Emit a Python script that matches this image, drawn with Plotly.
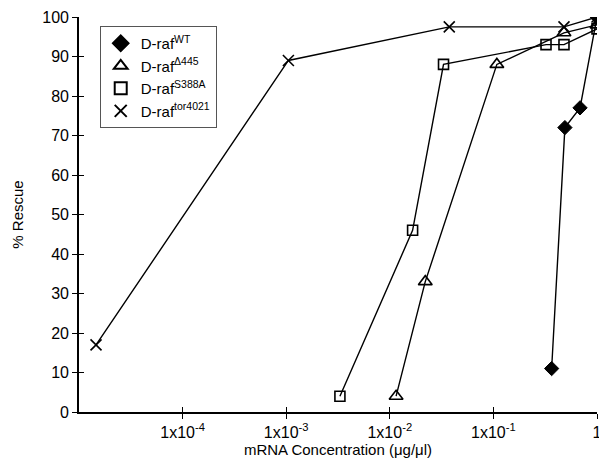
import plotly.graph_objects as go

# ---- data ----
wt_x = [0.365, 0.49, 0.686, 1.0]
wt_y = [11, 72, 77, 100]

d445_x = [0.0115, 0.022, 0.108, 0.48, 1.0]
d445_y = [4, 33, 88, 96, 98]

s388a_x = [0.0033, 0.0166, 0.033, 0.322, 0.48, 1.0]
s388a_y = [4, 46, 88, 93, 93, 97]

tor_x = [1.46e-5, 0.00105, 0.0375, 0.48, 1.0]
tor_y = [17, 89, 97.5, 97.5, 100]

names = ["D-raf<sup>WT</sup>", "D-raf<sup>Δ445</sup>",
         "D-raf<sup>S388A</sup>", "D-raf<sup>tor4021</sup>"]

x_tickvals = [1e-4, 1e-3, 1e-2, 1e-1, 1]
x_ticktext = ["1x10<sup>-4</sup>", "1x10<sup>-3</sup>", "1x10<sup>-2</sup>",
              "1x10<sup>-1</sup>", "1"]
y_tickvals = list(range(0, 101, 10))

FONT = "Liberation Sans, Arial, sans-serif"

series = [
    (wt_x, wt_y, dict(symbol="diamond", size=11, color="black",
                      line=dict(color="black", width=1))),
    (d445_x, d445_y, dict(symbol="triangle-up-open", size=12, color="black",
                          line=dict(color="black", width=1.6))),
    (s388a_x, s388a_y, dict(symbol="square-open", size=10, color="black",
                            line=dict(color="black", width=1.6))),
    (tor_x, tor_y, dict(symbol="x-thin-open", size=11, color="black",
                        line=dict(color="black", width=1.6))),
]

fig = go.Figure()
# draw WT last so its markers sit on top
for (xs, ys, mk), nm in reversed(list(zip(series, names))):
    fig.add_trace(go.Scatter(x=xs, y=ys, mode="lines+markers",
                             line=dict(color="black", width=1.4),
                             marker=mk, showlegend=False, cliponaxis=True))
# legend-only entries (marker without line)
for (xs, ys, mk), nm in zip(series, names):
    fig.add_trace(go.Scatter(x=[None], y=[None], mode="markers", name=nm,
                             marker=mk, showlegend=True))

# overlay axes to make ticks cross the axis lines
fig.add_trace(go.Scatter(x=[None], y=[None], xaxis="x2", yaxis="y2",
                         showlegend=False, hoverinfo="skip"))

fig.update_layout(
    width=599, height=464,
    margin=dict(l=79, r=2, t=17, b=52),
    paper_bgcolor="white", plot_bgcolor="white",
    font=dict(family=FONT, size=16, color="black"),
    xaxis=dict(type="log", range=[-5, 0], tickvals=x_tickvals,
               ticktext=x_ticktext, ticks="outside", ticklen=5,
               tickwidth=1.2, tickcolor="black", showline=True,
               linecolor="black", linewidth=1.6, showgrid=False,
               zeroline=False, automargin=False, ticklabeloverflow="allow",
               tickfont=dict(size=16),
               title=dict(text="mRNA Concentration (μg/μl)", standoff=0,
                          font=dict(size=15))),
    yaxis=dict(range=[0, 100], tickvals=y_tickvals, ticks="outside",
               ticklen=5, tickwidth=1.2, tickcolor="black", showline=True,
               linecolor="black", linewidth=1.6, showgrid=False,
               zeroline=False, automargin=False, ticklabeloverflow="allow",
               tickfont=dict(size=16),
               title=dict(text="% Rescue", font=dict(size=15))),
    xaxis2=dict(type="log", range=[-5, 0], tickvals=x_tickvals,
                ticks="inside", ticklen=5, tickwidth=1.2, tickcolor="black",
                showticklabels=False, showline=False, showgrid=False,
                zeroline=False, overlaying="x", side="bottom",
                automargin=False),
    yaxis2=dict(range=[0, 100], tickvals=y_tickvals, ticks="inside",
                ticklen=5, tickwidth=1.2, tickcolor="black",
                showticklabels=False, showline=False, showgrid=False,
                zeroline=False, overlaying="y", side="left",
                automargin=False),
    legend=dict(x=0.04, y=0.977, xanchor="left", yanchor="top",
                bordercolor="#555555", borderwidth=1, bgcolor="white",
                font=dict(size=15), itemsizing="constant",
                tracegroupgap=0, itemwidth=30),
    showlegend=True,
)

fig.write_html(
    "out.html",
    config={"displayModeBar": False},
    post_script="document.body.style.margin='0';document.body.style.overflow='hidden';",
)
